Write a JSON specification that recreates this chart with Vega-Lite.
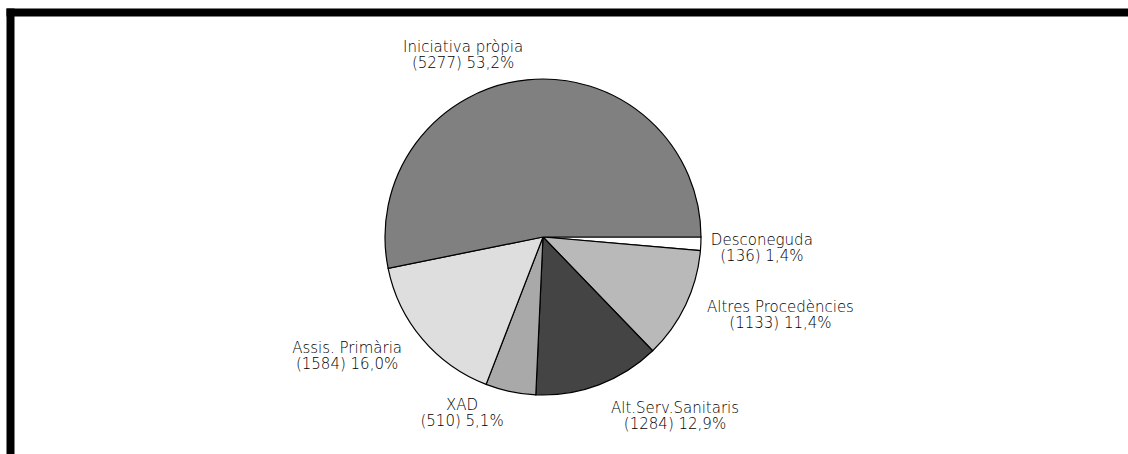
{
  "$schema": "https://vega.github.io/schema/vega-lite/v6.json",
  "width": 1118,
  "height": 442,
  "autosize": {"type": "none"},
  "padding": {"left": 10, "top": 12, "right": 0, "bottom": 0},
  "background": "white",
  "config": {
    "view": {"stroke": null},
    "axis": {"domainColor": "black", "domainWidth": 8, "domainCap": "square", "ticks": false, "labels": false, "grid": false, "title": null},
    "text": {"font": "DejaVu Sans", "fontSize": 15, "fontWeight": 200, "lineHeight": 16, "align": "center", "baseline": "middle", "color": "black", "lineBreak": "\n", "radius": 170}
  },
  "data": {
    "values": [
      {"cat": "Desconeguda", "n": 136, "k": 1, "label": "Desconeguda\n(136) 1,4%"},
      {"cat": "Altres Procedències", "n": 1133, "k": 2, "label": "Altres Procedències\n(1133) 11,4%"},
      {"cat": "Alt.Serv.Sanitaris", "n": 1284, "k": 3, "label": "Alt.Serv.Sanitaris\n(1284) 12,9%"},
      {"cat": "XAD", "n": 510, "k": 4, "label": "XAD\n(510) 5,1%"},
      {"cat": "Assis. Primària", "n": 1584, "k": 5, "label": "Assis. Primària\n(1584) 16,0%"},
      {"cat": "Iniciativa pròpia", "n": 5277, "k": 6, "label": "Iniciativa pròpia\n(5277) 53,2%"}
    ]
  },
  "layer": [
    {
      "mark": {"type": "point", "opacity": 0},
      "encoding": {
        "x": {"field": "n", "type": "quantitative", "axis": {"orient": "top"}},
        "y": {"field": "k", "type": "quantitative", "axis": {"orient": "left"}}
      }
    },
    {
      "mark": {"type": "arc", "outerRadius": 158, "stroke": "black", "strokeWidth": 1.2, "xOffset": -26, "yOffset": 4},
      "encoding": {
        "theta": {"field": "n", "type": "quantitative", "stack": true, "scale": {"range": [1.5707963, 7.8539816]}},
        "order": {"field": "k", "type": "quantitative"},
        "color": {
          "field": "cat", "type": "nominal", "legend": null,
          "scale": {
            "domain": ["Desconeguda", "Altres Procedències", "Alt.Serv.Sanitaris", "XAD", "Assis. Primària", "Iniciativa pròpia"],
            "range": ["#ffffff", "#b9b9b9", "#444444", "#a9a9a9", "#dedede", "#808080"]
          }
        }
      }
    },
    {
      "mark": {"type": "text", "dx": 23, "dy": 0},
      "encoding": {
        "theta": {"field": "n", "type": "quantitative", "stack": true},
        "order": {"field": "k", "type": "quantitative"},
        "text": {"condition": {"test": "datum.cat === 'Desconeguda'", "field": "label"}, "value": ""}
      }
    },
    {
      "mark": {"type": "text", "dx": 58, "dy": 1},
      "encoding": {
        "theta": {"field": "n", "type": "quantitative", "stack": true},
        "order": {"field": "k", "type": "quantitative"},
        "text": {"condition": {"test": "datum.cat === 'Altres Procedències'", "field": "label"}, "value": ""}
      }
    },
    {
      "mark": {"type": "text", "dx": 46, "dy": 16},
      "encoding": {
        "theta": {"field": "n", "type": "quantitative", "stack": true},
        "order": {"field": "k", "type": "quantitative"},
        "text": {"condition": {"test": "datum.cat === 'Alt.Serv.Sanitaris'", "field": "label"}, "value": ""}
      }
    },
    {
      "mark": {"type": "text", "dx": -72, "dy": 6},
      "encoding": {
        "theta": {"field": "n", "type": "quantitative", "stack": true},
        "order": {"field": "k", "type": "quantitative"},
        "text": {"condition": {"test": "datum.cat === 'XAD'", "field": "label"}, "value": ""}
      }
    },
    {
      "mark": {"type": "text", "dx": -92, "dy": 5},
      "encoding": {
        "theta": {"field": "n", "type": "quantitative", "stack": true},
        "order": {"field": "k", "type": "quantitative"},
        "text": {"condition": {"test": "datum.cat === 'Assis. Primària'", "field": "label"}, "value": ""}
      }
    },
    {
      "mark": {"type": "text", "dx": -89, "dy": -17},
      "encoding": {
        "theta": {"field": "n", "type": "quantitative", "stack": true},
        "order": {"field": "k", "type": "quantitative"},
        "text": {"condition": {"test": "datum.cat === 'Iniciativa pròpia'", "field": "label"}, "value": ""}
      }
    }
  ]
}
